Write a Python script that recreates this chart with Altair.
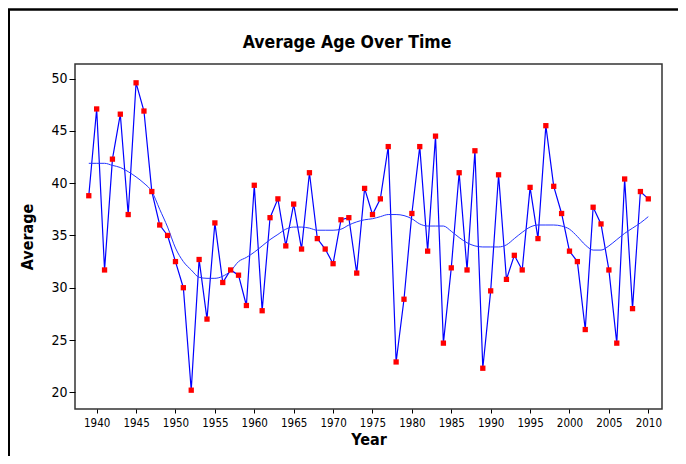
import altair as alt
import pandas as pd

years = list(range(1939, 2011))
average = [38.8, 47.1, 31.7, 42.3, 46.6, 37.0, 49.6, 46.9, 39.2, 36.0,
           35.0, 32.5, 30.0, 20.2, 32.7, 27.0, 36.2, 30.5, 31.7, 31.2,
           28.3, 39.8, 27.8, 36.7, 38.5, 34.0, 38.0, 33.7, 41.0, 34.7,
           33.7, 32.3, 36.5, 36.7, 31.4, 39.5, 37.0, 38.5, 43.5, 22.9,
           28.9, 37.1, 43.5, 33.5, 44.5, 24.7, 31.9, 41.0, 31.7, 43.1,
           22.3, 29.7, 40.8, 30.8, 33.1, 31.7, 39.6, 34.7, 45.5, 39.7,
           37.1, 33.5, 32.5, 26.0, 37.7, 36.1, 31.7, 24.7, 40.4, 28.0,
           39.2, 38.5]
smooth = [41.9, 41.9, 41.9, 41.7, 41.5, 41.1, 40.6, 40.0, 39.2, 37.5,
          35.8, 33.8, 32.5, 31.7, 31.0, 30.9, 30.9, 31.1, 31.6, 32.5,
          32.9, 33.4, 34.0, 34.6, 35.1, 35.6, 35.8, 35.8, 35.7, 35.5,
          35.5, 35.5, 35.6, 36.0, 36.3, 36.5, 36.6, 36.8, 37.0, 37.0,
          36.9, 36.6, 36.1, 35.9, 35.9, 35.9, 35.4, 34.8, 34.3, 34.0,
          33.9, 33.9, 33.9, 34.1, 34.7, 35.3, 35.8, 36.0, 36.0, 36.0,
          35.9, 35.6, 34.9, 34.1, 33.6, 33.6, 34.0, 34.6, 35.2, 35.7,
          36.2, 36.8]
x_ticks = list(range(1940, 2011, 5))
y_ticks = [20, 25, 30, 35, 40, 45, 50]
title_text = ["Average Age Over Time"]

df = pd.DataFrame({"Year": years, "Average": average, "Smooth": smooth})

FONT = "DejaVu Sans Condensed, Liberation Sans, sans-serif"

xs = alt.Scale(domain=[1937.25, 2011.74], nice=False, zero=False)
ys = alt.Scale(domain=[18.4, 51.4], nice=False, zero=False)

xax = alt.Axis(values=x_ticks, format="d", title="Year", grid=False, domain=False,
               tickSize=4, tickColor="black", labelFontSize=11.5, labelColor="black",
               labelPadding=4, labelFont=FONT, titleFont=FONT, titleFontSize=16,
               titleFontWeight="bold", titleColor="black", titlePadding=3)
yax = alt.Axis(values=y_ticks, title="Average", grid=False, domain=False,
               tickSize=6, tickColor="black", labelFontSize=14, labelColor="black",
               labelPadding=2, labelFont=FONT, titleFont=FONT, titleFontSize=16,
               titleFontWeight="bold", titleColor="black", titlePadding=15)

base = alt.Chart(df)
line = base.mark_line(color="#0000FF", strokeWidth=1.2).encode(
    x=alt.X("Year:Q", scale=xs, axis=xax),
    y=alt.Y("Average:Q", scale=ys, axis=yax),
)
smooth_line = base.mark_line(color="#2233FF", strokeWidth=1, interpolate="monotone").encode(
    x=alt.X("Year:Q", scale=xs),
    y=alt.Y("Smooth:Q", scale=ys),
)
points = base.mark_point(shape="square", filled=True, color="#FF0000", size=28, opacity=1).encode(
    x=alt.X("Year:Q", scale=xs),
    y=alt.Y("Average:Q", scale=ys),
)
title = alt.Chart(pd.DataFrame({"t": title_text})).mark_text(
    font=FONT, fontSize=17.5, fontWeight="bold", color="black",
    align="center", baseline="middle", clip=False
).encode(text="t:N", x=alt.value(272), y=alt.value(-21))
frame_top = alt.Chart(pd.DataFrame({"a": [0]})).mark_rule(color="black", strokeWidth=2.5, clip=False).encode(
    x=alt.value(-67), x2=alt.value(608), y=alt.value(-54.5)
)
frame_left = alt.Chart(pd.DataFrame({"a": [0]})).mark_rule(color="black", strokeWidth=2, clip=False).encode(
    x=alt.value(-66), y=alt.value(-54.5), y2=alt.value(400)
)

chart = alt.layer(line, smooth_line, points, title, frame_top, frame_left).properties(
    width=587, height=345,
    background="white",
    autosize=alt.AutoSizeParams(type="none"),
    padding={"left": 67, "top": 56, "right": 16, "bottom": 47},
).configure_view(stroke="#333333", strokeWidth=1.5)

chart.save("out.html", embed_options={"renderer": "svg", "actions": False})
